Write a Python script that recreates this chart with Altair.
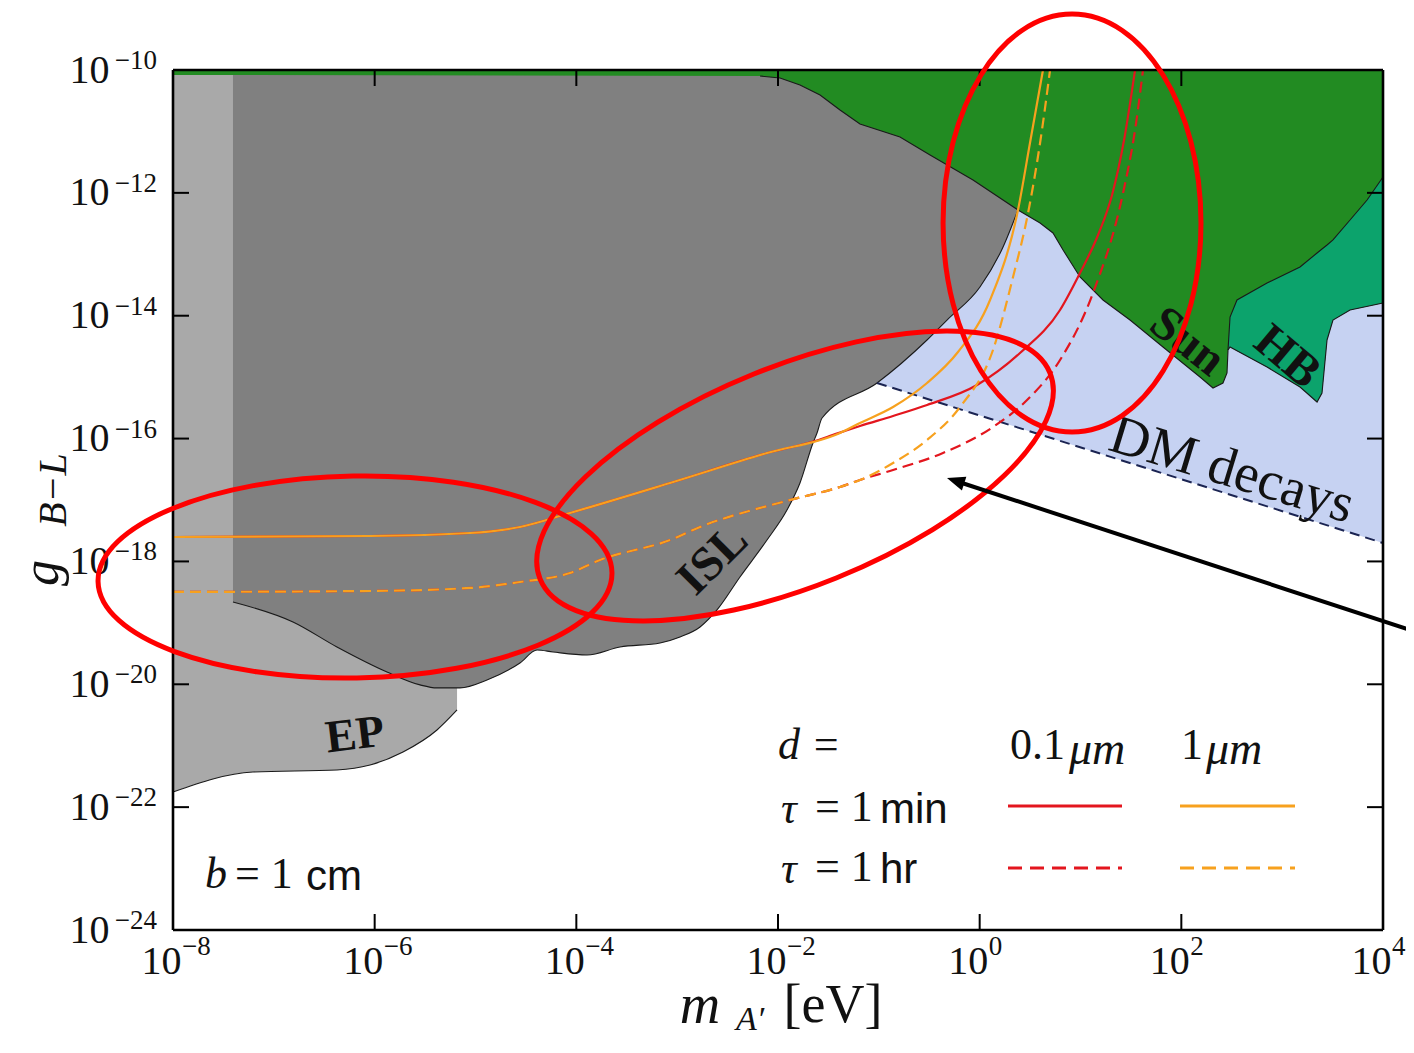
import altair as alt
import pandas as pd

SERIF = "Liberation Serif"
SANS = "Liberation Sans"
W, H = 1210, 860
TICK = 16

# ---------------- axis layout (log10 values) ----------------
X_TICKS = [-8, -6, -4, -2, 0, 2, 4]
Y_TICKS = [-24, -22, -20, -18, -16, -14, -12, -10]
X_DOMAIN = [1e-8, 1e4]
Y_DOMAIN = [1e-24, 1e-10]
TOP = -10.0

# ---------------- excluded regions (log10 m_A' [eV], log10 g) ----------------
EP_X = [-8.000, -7.207, -6.374, -6.046, -5.719, -5.382, -5.183]
EP_LO = [-21.753, -21.428, -21.395, -21.314, -21.102, -20.744, -20.418]

ISL_X = [-7.405, -6.810, -6.374, -5.878, -5.550, -5.382, -5.154, -4.886, -4.559, -4.390,
         -4.231, -3.894, -3.567, -3.170, -2.972, -2.773, -2.605, -2.377, -2.109, -1.911,
         -1.782, -1.653, -1.613, -1.563, -1.018, -0.522, -0.324, 0.003, 0.232, 0.380]
ISL_LO = [-18.660, -18.986, -19.393, -19.800, -20.010, -20.059, -20.059, -19.930, -19.653, -19.442,
          -19.474, -19.523, -19.393, -19.328, -19.230, -19.067, -18.790, -18.253, -17.651, -17.163,
          -16.723, -16.072, -15.909, -15.665, -15.095, -14.395, -14.070, -13.532, -12.881, -12.279]

SUN_X = [-8.000, -2.178, -1.980, -1.782, -1.583, -1.385, -1.187, -0.790, -0.492, -0.066,
         0.380, 0.599, 0.727, 0.827, 0.995, 1.223, 1.491, 1.818, 2.185, 2.314,
         2.413, 2.453, 2.463, 2.483, 2.850, 3.177, 3.346, 3.395, 3.445, 3.504, 3.673, 4.000]
SUN_LO = [-10.081, -10.098, -10.130, -10.244, -10.407, -10.651, -10.879, -11.091, -11.384, -11.791,
          -12.279, -12.491, -12.653, -12.930, -13.370, -13.744, -14.070, -14.509, -14.998, -15.177,
          -15.095, -14.932, -14.558, -14.509, -14.835, -15.160, -15.405, -15.258, -14.395, -14.070,
          -13.907, -13.793]

HB_X = [2.463, 2.483, 2.552, 2.850, 3.177, 3.346, 3.395, 3.445, 3.504, 3.673, 3.842, 4.000]
HB_LO = [-14.558, -14.509, -14.574, -14.835, -15.160, -15.405, -15.258, -14.395, -14.070, -13.907,
         -13.848, -13.793]
HB_HI = [-14.558, -14.021, -13.744, -13.467, -13.207, -12.979, -12.914, -12.849, -12.767, -12.442,
         -12.116, -11.742]

DM_X = [-1.018, 4.000]
DM_LO = [-15.095, -17.700]

# ---------------- projected sensitivity curves ----------------
C1MIN_1UM_X = [-8.000, -6.046, -5.054, -4.559, -4.063, -3.071, -2.109, -1.385, -1.187, -0.859,
               -0.522, -0.215, 0.103, 0.380, 0.499, 0.628]
C1MIN_1UM_Y = [-17.602, -17.586, -17.537, -17.439, -17.211, -16.723, -16.235, -15.909, -15.746, -15.486,
               -15.095, -14.591, -13.744, -12.279, -11.188, -10.000]

C1HR_1UM_X = [-8.000, -6.046, -5.054, -4.559, -4.063, -3.765, -3.071, -2.773, -1.881, -1.385,
              -1.187, -0.859, -0.522, -0.195, 0.132, 0.331, 0.480, 0.599, 0.698]
C1HR_1UM_Y = [-18.497, -18.481, -18.432, -18.335, -18.188, -17.977, -17.651, -17.439, -17.000, -16.788,
              -16.674, -16.398, -16.023, -15.486, -14.558, -13.370, -12.328, -11.188, -10.000]

C1MIN_01UM_X = [-8.000, -6.046, -5.054, -4.559, -4.063, -3.071, -2.109, -1.633, -1.513, -1.187,
                -0.859, -0.522, -0.026, 0.400, 0.797, 0.995, 1.174, 1.313, 1.432, 1.541]
C1MIN_01UM_Y = [-17.602, -17.586, -17.537, -17.439, -17.211, -16.723, -16.235, -16.039, -15.974, -15.795,
                -15.632, -15.453, -15.128, -14.607, -13.907, -13.305, -12.686, -12.035, -11.140, -10.000]

C1HR_01UM_X = [-8.000, -6.046, -5.054, -4.559, -4.063, -3.765, -3.071, -2.773, -1.881, -1.385,
               -1.187, -0.859, -0.364, 0.132, 0.470, 0.797, 1.124, 1.422, 1.541, 1.620]
C1HR_01UM_Y = [-18.497, -18.481, -18.432, -18.335, -18.188, -17.977, -17.651, -17.439, -17.000, -16.788,
               -16.674, -16.511, -16.235, -15.812, -15.372, -14.721, -13.630, -12.002, -10.977, -10.000]

# ---------------- region names ----------------
REGION_NAMES = ["EP", "ISL", "Sun", "HB", "DM decays"]
REGION_X = [-6.195, -2.644, 2.057, 3.048, 2.503]
REGION_Y = [-20.825, -17.977, -14.428, -14.672, -16.511]

# ---------------- overlay annotations (data space) ----------------
ELLIPSE_X = [-6.195, -1.831, 0.916]
ELLIPSE_Y = [-18.253, -16.609, -12.491]
ARROW_X = [4.268, -0.175]
ARROW_Y = [-19.116, -16.723]
ARROW_TIP = [-0.324, -16.642]


def p10(v):
    return [10.0 ** a for a in v]


def exp_text(v):
    return [str(e).replace("-", "−") for e in v]


xs = alt.Scale(type="log", domain=X_DOMAIN, nice=False)
ys = alt.Scale(type="log", domain=Y_DOMAIN, nice=False)

BASE_SIZE = 40
EXP_SIZE = 27

x_axis = alt.Axis(values=p10(X_TICKS), labelExpr="'10'", domain=False, ticks=False, grid=False,
                  title=None, labelFont=SERIF, labelFontSize=BASE_SIZE, labelPadding=11,
                  labelAlign="right", labelOffset=8, labelBaseline="top",
                  labelOverlap=False, labelColor="#111", labelFlush=False, labelBound=False)
y_axis = alt.Axis(values=p10(Y_TICKS), labelExpr="'10'", domain=False, ticks=False, grid=False,
                  title=None, labelFont=SERIF, labelFontSize=BASE_SIZE, labelPadding=64,
                  labelOverlap=False, labelColor="#111", labelFlush=False, labelBound=False)


def X(field="x"):
    return alt.X(f"{field}:Q", scale=xs, axis=x_axis)


def Y(field="y"):
    return alt.Y(f"{field}:Q", scale=ys, axis=y_axis)


def band(xv, lo, hi=None):
    hi = hi if hi is not None else [TOP] * len(xv)
    return pd.DataFrame({"x": p10(xv), "lo": p10(lo), "hi": p10(hi)})


def curve(xv, yv):
    return pd.DataFrame({"x": p10(xv), "y": p10(yv), "i": list(range(len(xv)))})


def area(df, color, interp="linear"):
    return alt.Chart(df).mark_area(color=color, opacity=1, interpolate=interp).encode(
        x=X("x"), y=Y("lo"), y2="hi:Q")


def outline(xv, yv, color="#1a1a1a", width=1.1, dash=None, interp="linear"):
    kw = dict(color=color, strokeWidth=width, interpolate=interp)
    if dash:
        kw["strokeDash"] = dash
    return alt.Chart(curve(xv, yv)).mark_line(**kw).encode(x=X(), y=Y(), order="i:Q")


ONE = pd.DataFrame({"k": [0]})


def text(t, px, py, size, style="normal", weight="normal", font=SERIF, angle=0, align="left",
         baseline="middle"):
    return alt.Chart(ONE).mark_text(text=t, fontSize=size, fontStyle=style, fontWeight=weight,
                                    font=font, angle=angle, align=align, baseline=baseline,
                                    color="#111").encode(x=alt.value(px), y=alt.value(py))


def hline(x1, x2, py, color, dash=None):
    kw = dict(color=color, strokeWidth=3)
    if dash:
        kw["strokeDash"] = dash
    return alt.Chart(ONE).mark_rule(**kw).encode(x=alt.value(x1), x2=alt.value(x2), y=alt.value(py))


layers = []
# filled regions
layers.append(area(band(DM_X, DM_LO), "#c6d2f2"))
layers.append(area(band(EP_X, EP_LO), "#a9a9a9", "monotone"))
layers.append(area(band(ISL_X, ISL_LO), "#808080", "monotone"))
layers.append(area(band(SUN_X, SUN_LO), "#228b22"))
layers.append(area(band(HB_X, HB_LO, HB_HI), "#0ca36c"))
# region outlines
layers.append(outline(EP_X, EP_LO, interp="monotone"))
layers.append(outline(ISL_X, ISL_LO, interp="monotone"))
layers.append(outline(SUN_X[1:], SUN_LO[1:]))
layers.append(outline(HB_X, HB_HI))
layers.append(outline(DM_X, DM_LO, color="#1b2452", width=2, dash=[10, 6]))

RED = "#e3161e"
ORANGE = "#f7a11e"
CW = 2.2
layers.append(outline(C1MIN_01UM_X, C1MIN_01UM_Y, color=RED, width=CW, interp="monotone"))
layers.append(outline(C1HR_01UM_X, C1HR_01UM_Y, color=RED, width=CW, dash=[11, 6], interp="monotone"))
layers.append(outline(C1MIN_1UM_X, C1MIN_1UM_Y, color=ORANGE, width=CW, interp="monotone"))
layers.append(outline(C1HR_1UM_X, C1HR_1UM_Y, color=ORANGE, width=CW, dash=[11, 6], interp="monotone"))

# region names
REGION_STYLE = [(353, 46, "bold"), (315, 48, "bold"), (38, 48, "bold"), (40, 48, "bold"), (17, 55, "normal")]
for name, lx, ly, (ang, size, wt) in zip(REGION_NAMES, REGION_X, REGION_Y, REGION_STYLE):
    df = pd.DataFrame({"x": [10 ** lx], "y": [10 ** ly]})
    layers.append(alt.Chart(df).mark_text(text=name, font=SERIF, fontSize=size, fontWeight=wt,
                                          angle=ang, color="#111", align="center", baseline="middle")
                  .encode(x=X(), y=Y()))

# inward ticks on all four sides
tx = pd.DataFrame({"t": p10(X_TICKS), "e": exp_text(X_TICKS)})
ty = pd.DataFrame({"t": p10(Y_TICKS), "e": exp_text(Y_TICKS)})
for y1, y2 in [(H, H - TICK), (0, TICK)]:
    layers.append(alt.Chart(tx).mark_rule(color="black", strokeWidth=2)
                  .encode(x=X("t"), y=alt.value(y1), y2=alt.value(y2)))
for x1, x2 in [(0, TICK), (W, W - TICK)]:
    layers.append(alt.Chart(ty).mark_rule(color="black", strokeWidth=2)
                  .encode(y=Y("t"), x=alt.value(x1), x2=alt.value(x2)))
# tick-label exponents (the "10" base comes from the axes)
layers.append(alt.Chart(tx).mark_text(font=SERIF, fontSize=EXP_SIZE, align="left", baseline="top",
                                      dx=9, color="#111")
              .encode(x=X("t"), y=alt.value(H + 4), text="e:N"))
layers.append(alt.Chart(ty).mark_text(font=SERIF, fontSize=EXP_SIZE, align="right", baseline="middle",
                                      dy=-9, color="#111")
              .encode(y=Y("t"), x=alt.value(-16), text="e:N"))
# frame
for a in [(0, W, 0, 0), (0, W, H, H), (0, 0, 0, H), (W, W, 0, H)]:
    layers.append(alt.Chart(ONE).mark_rule(color="black", strokeWidth=2.6)
                  .encode(x=alt.value(a[0]), x2=alt.value(a[1]), y=alt.value(a[2]), y2=alt.value(a[3])))

# legend block
layers += [
    text("d =", 605, 676, 44, style="italic"),
    text("0.1", 837, 676, 44),
    text("μm", 896, 680, 46, style="italic"),
    text("1", 1008, 676, 44),
    text("μm", 1033, 680, 46, style="italic"),
    text("τ", 608, 740, 44, style="italic"),
    text("= 1", 642, 738, 44),
    text("min", 707, 740, 42, font=SANS),
    text("τ", 608, 800, 44, style="italic"),
    text("= 1", 642, 798, 44),
    text("hr", 707, 800, 42, font=SANS),
    hline(835, 949, 736, RED),
    hline(1007, 1122, 736, ORANGE),
    hline(835, 949, 798, RED, dash=[14, 8]),
    hline(1007, 1122, 798, ORANGE, dash=[14, 8]),
    text("b", 32, 805, 44, style="italic"),
    text("= 1", 62, 805, 44),
    text("cm", 133, 807, 42, font=SANS),
]

# axis titles
layers += [
    text("m", 527, 953, 56, style="italic", align="center", baseline="alphabetic"),
    text("A′", 577, 960, 34, style="italic", align="center", baseline="alphabetic"),
    text("[eV]", 660, 952, 54, align="center", baseline="alphabetic"),
    text("g", -131, 503, 52, style="italic", angle=270, align="center"),
    text("B−L", -119, 420, 40, style="italic", angle=270, align="center"),
]

# red ellipses and arrow overlay
ELLIPSES = [
    ("M -1 0 A 1 0.393 0 1 1 1 0 A 1 0.393 0 1 1 -1 0 Z", 264196, 359),
    ("M -1 0 A 1 0.4 0 1 1 1 0 A 1 0.4 0 1 1 -1 0 Z", 302500, 338),
    ("M 0 -1 A 0.617 1 0 1 1 0 1 A 0.617 1 0 1 1 0 -1 Z", 174724, 0),
]
for (shape, size, ang), ex, ey in zip(ELLIPSES, ELLIPSE_X, ELLIPSE_Y):
    df = pd.DataFrame({"x": [10 ** ex], "y": [10 ** ey]})
    layers.append(alt.Chart(df).mark_point(shape=shape, size=size, angle=ang, filled=False,
                                           stroke="#ff0000", strokeWidth=5, opacity=1)
                  .encode(x=X(), y=Y()))

arrow_df = pd.DataFrame({"x": [10 ** ARROW_X[0]], "x2": [10 ** ARROW_X[1]],
                         "y": [10 ** ARROW_Y[0]], "y2": [10 ** ARROW_Y[1]]})
layers.append(alt.Chart(arrow_df).mark_rule(color="black", strokeWidth=4)
              .encode(x=X(), x2="x2:Q", y=Y(), y2="y2:Q"))
tip_df = pd.DataFrame({"x": [10 ** ARROW_TIP[0]], "y": [10 ** ARROW_TIP[1]]})
layers.append(alt.Chart(tip_df).mark_point(shape="M 0 0 L 2 -0.8 L 2 0.8 Z", size=324, angle=18,
                                           filled=True, color="black", opacity=1)
              .encode(x=X(), y=Y()))

chart = alt.layer(*layers).properties(
    width=W, height=H,
    autosize=alt.AutoSizeParams(type="none"),
    padding={"left": 165, "top": 62, "right": 23, "bottom": 110},
    background="white",
).configure_view(stroke=None)

chart.save("out.html", embed_options={"renderer": "svg", "actions": False})
